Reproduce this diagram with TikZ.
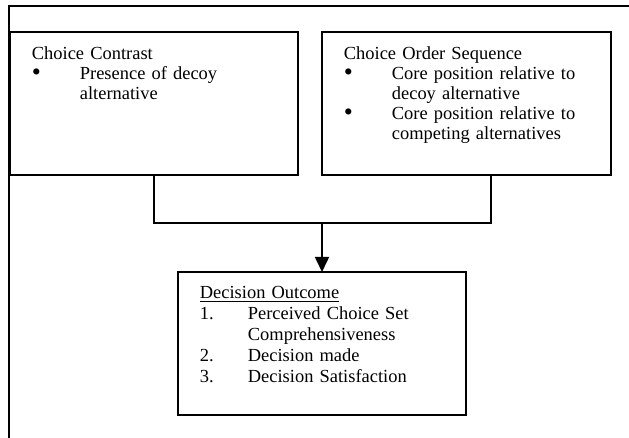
\documentclass[tikz,border=0pt]{standalone}
\usepackage{fontspec}
\usepackage{graphicx}
\setmainfont{Liberation Serif}
\usetikzlibrary{arrows.meta,positioning}
\newcommand{\bul}{\makebox[32pt][l]{\smash{\raisebox{-0.7pt}{\scalebox{1.4}{\textbullet}}}}}
\newcommand{\num}[1]{\makebox[32pt][l]{#1.}}
\newcommand{\ind}{\hspace*{32pt}}

\begin{document}
\begin{tikzpicture}[x=0.6667pt,y=-0.6667pt,line width=1.2pt,
    panel/.style={draw,rectangle,outer sep=0pt,inner sep=0pt,anchor=north west,
      minimum width=192pt,minimum height=95.3pt},
    panetext/.style={anchor=base west,align=left,inner sep=0pt,text width=180pt,
      font=\fontsize{12.3}{13.3}\selectfont}]
        \useasboundingbox (0,0) rectangle (629,438);
        \draw (629,6) -- (9,6) -- (9,438);
        \node[panel] (cc) at (10,32) {};
        \node[panel,minimum width=192.7pt] (cos) at (322,32) {};
        \node[panel] (dout) at (178,272) {};
        \node[panetext] (cctext) at (31,60) {Choice Contrast\\
          \bul Presence of decoy\\ \ind alternative};
        \node[panetext] (costext) at (343,59.3) {Choice Order Sequence\\
          \bul Core position relative to\\ \ind decoy alternative\\
          \bul Core position relative to\\ \ind competing alternatives};
        \node[panetext,font=\fontsize{12.3}{14}\selectfont] (douttext) at (199,299) {\underline{Decision Outcome}\\
          \num{1}Perceived Choice Set\\ \ind Comprehensiveness\\
          \num{2}Decision made\\ \num{3}Decision Satisfaction};
        \coordinate (cosout) at (491,175);
        \coordinate (join) at (322,223);
        \draw (cc.south) |- (cosout |- join) -- (cosout);
        \draw[-{Triangle[length=10pt,width=9.3pt]}] (join) -- (dout.north);
      \end{tikzpicture}
\end{document}
